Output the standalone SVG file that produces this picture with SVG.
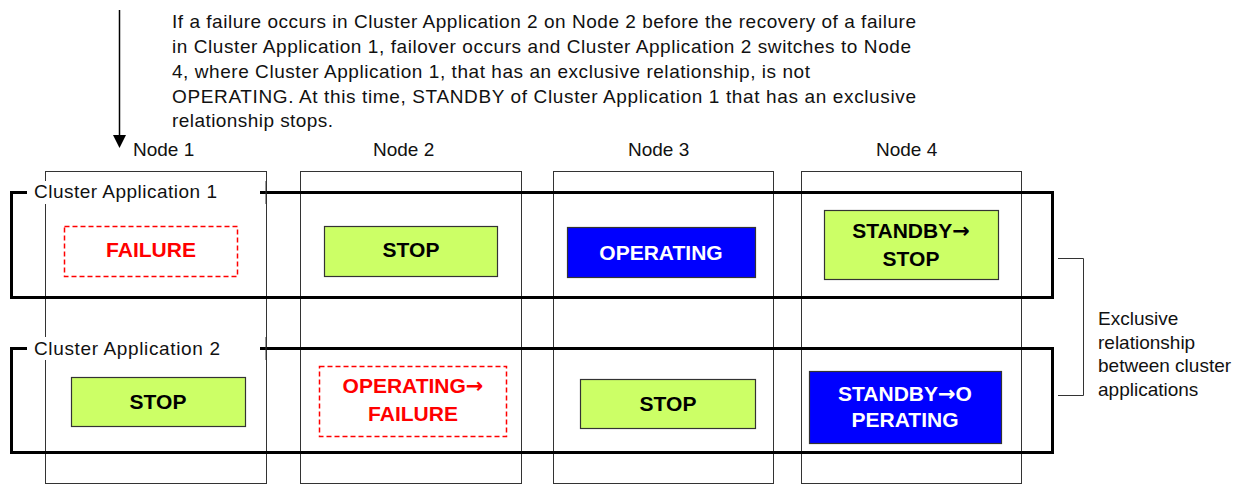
<svg xmlns="http://www.w3.org/2000/svg" width="1254" height="484" viewBox="0 0 1254 484">
<style>
.t{font-family:"Liberation Sans",Arial,sans-serif;font-size:19px;fill:#111}
.b{font-family:"Liberation Sans",Arial,sans-serif;font-size:21px;font-weight:bold;text-anchor:middle}
.ar{font-family:"DejaVu Sans",sans-serif;font-weight:bold}
.node{fill:none;stroke:#333;stroke-width:1}
.band{fill:none;stroke:#000;stroke-width:3}
.green{fill:#CCFF66;stroke:#333;stroke-width:1.2}
.blue{fill:#0000FF;stroke:#333;stroke-width:1.2}
.fail{fill:#fff;stroke:#FF0000;stroke-width:1.5;stroke-dasharray:5 3}
.bk{fill:#000}.wh{fill:#fff}.rd{fill:#FF0000}
</style>
<rect width="1254" height="484" fill="#fff"/>
<g id="description">
<text class="t" x="172" y="28" textLength="744" lengthAdjust="spacing">If a failure occurs in Cluster Application 2 on Node 2 before the recovery of a failure</text>
<text class="t" x="172" y="53" textLength="739" lengthAdjust="spacing">in Cluster Application 1, failover occurs and Cluster Application 2 switches to Node</text>
<text class="t" x="172" y="78" textLength="638" lengthAdjust="spacing">4, where Cluster Application 1, that has an exclusive relationship, is not</text>
<text class="t" x="172" y="103" textLength="744" lengthAdjust="spacing">OPERATING.  At this time, STANDBY of Cluster Application 1 that has an exclusive</text>
<text class="t" x="172" y="127" textLength="161" lengthAdjust="spacing">relationship stops.</text>
</g>
<g id="connectors">
<line x1="119.5" y1="10" x2="119.5" y2="137" stroke="#000" stroke-width="1.5"/>
<polygon points="113,135 126,135 119.5,148" fill="#000"/>
<polyline points="1058,258.5 1083.5,258.5 1083.5,395.5 1058,395.5" fill="none" stroke="#333" stroke-width="1"/>
</g>
<g id="node1">
<rect class="node" x="45.5" y="171.5" width="221" height="312"/>
<text class="t" x="133" y="156">Node 1</text>
</g>
<g id="node2">
<rect class="node" x="300.5" y="171.5" width="221" height="312"/>
<text class="t" x="373" y="156">Node 2</text>
</g>
<g id="node3">
<rect class="node" x="553.5" y="171.5" width="220" height="312"/>
<text class="t" x="628" y="156">Node 3</text>
</g>
<g id="node4">
<rect class="node" x="801.5" y="171.5" width="220" height="312"/>
<text class="t" x="876" y="156">Node 4</text>
</g>
<g id="cluster-app-1">
<rect class="band" x="11.5" y="192.5" width="1041" height="105"/>
<rect x="27" y="181" width="233" height="23" fill="#fff"/>
<line x1="266" y1="181" x2="266" y2="204" stroke="#333" stroke-width="1"/>
<text class="t" x="34" y="198" textLength="183" lengthAdjust="spacing">Cluster Application 1</text>
</g>
<g id="cluster-app-2">
<rect class="band" x="11.5" y="348.5" width="1041" height="104"/>
<rect x="27" y="337" width="233" height="23" fill="#fff"/>
<line x1="266" y1="337" x2="266" y2="360" stroke="#333" stroke-width="1"/>
<text class="t" x="34" y="355" textLength="186" lengthAdjust="spacing">Cluster Application 2</text>
</g>
<g id="app1-node1">
<rect class="fail" x="64.5" y="226.5" width="173" height="50"/>
<text class="b rd" x="151" y="257">FAILURE</text>
</g>
<g id="app1-node2">
<rect class="green" x="324.5" y="226.5" width="173" height="50"/>
<text class="b bk" x="411" y="257">STOP</text>
</g>
<g id="app1-node3">
<rect class="blue" x="567.5" y="227.5" width="188" height="50"/>
<text class="b wh" x="661" y="260">OPERATING</text>
</g>
<g id="app1-node4">
<rect class="green" x="824.5" y="210.5" width="174" height="69"/>
<text class="b bk" x="911" y="238">STANDBY<tspan class="ar">→</tspan></text>
<text class="b bk" x="911" y="266">STOP</text>
</g>
<g id="app2-node1">
<rect class="green" x="71.5" y="377.5" width="174" height="49"/>
<text class="b bk" x="158" y="409">STOP</text>
</g>
<g id="app2-node2">
<rect class="fail" x="319.5" y="366.5" width="187" height="70"/>
<text class="b rd" x="413" y="393">OPERATING<tspan class="ar">→</tspan></text>
<text class="b rd" x="413" y="421">FAILURE</text>
</g>
<g id="app2-node3">
<rect class="green" x="580.5" y="379.5" width="175" height="49"/>
<text class="b bk" x="668" y="411">STOP</text>
</g>
<g id="app2-node4">
<rect class="blue" x="809.5" y="371.5" width="192" height="72"/>
<text class="b wh" x="905" y="401">STANDBY<tspan class="ar">→</tspan>O</text>
<text class="b wh" x="905" y="427">PERATING</text>
</g>
<g id="legend">
<text class="t" x="1098" y="325">Exclusive</text>
<text class="t" x="1098" y="348.5">relationship</text>
<text class="t" x="1098" y="372">between cluster</text>
<text class="t" x="1098" y="395.5">applications</text>
</g>
</svg>
